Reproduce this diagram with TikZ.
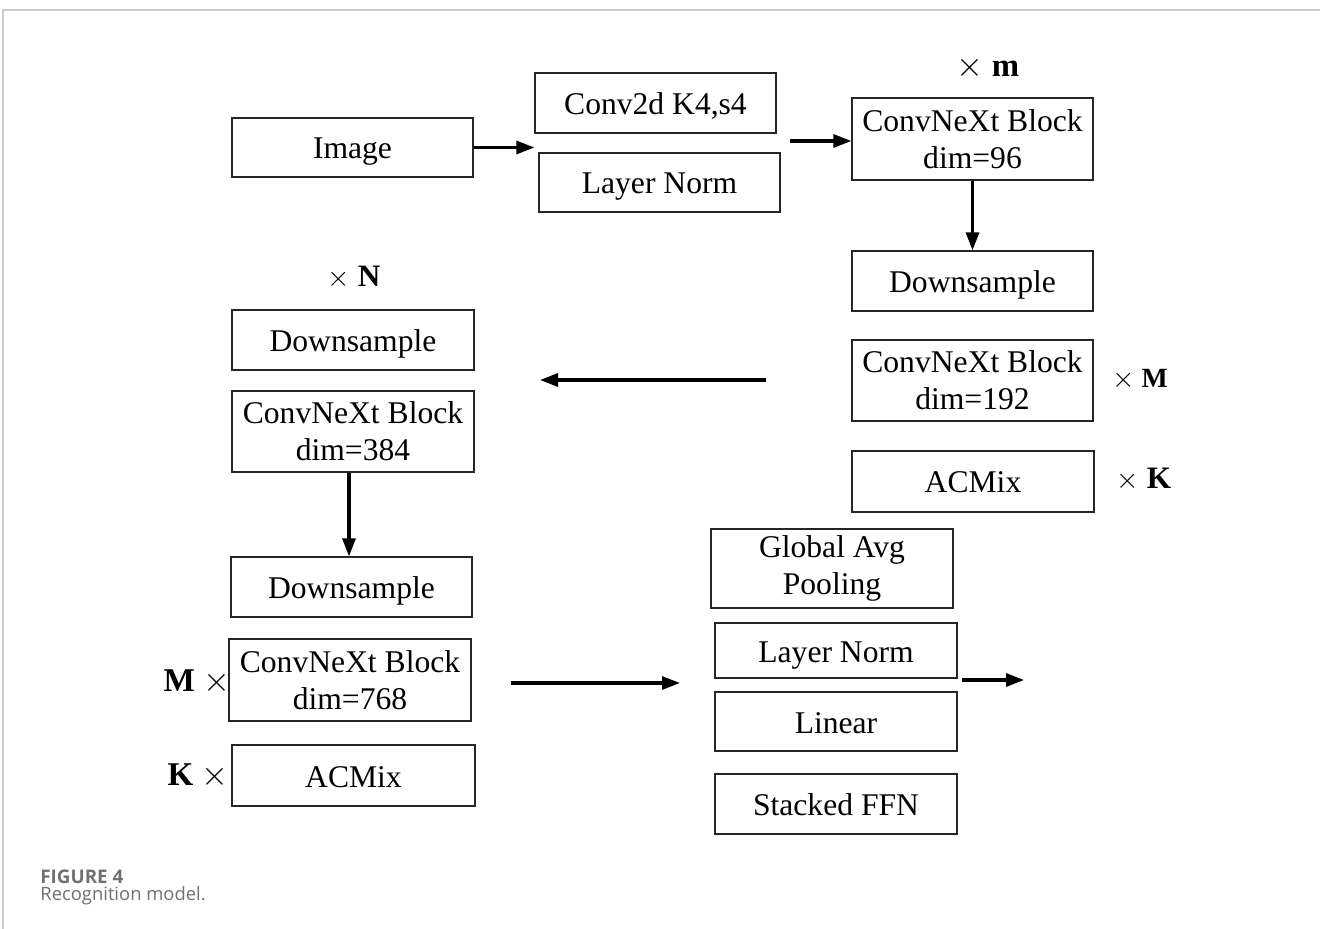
\documentclass[tikz,border=0pt]{standalone}
\usepackage{fontspec}
\setmainfont{Liberation Serif}
\newfontfamily\capfont{Open Sans}
\usetikzlibrary{arrows.meta}
\definecolor{capgray}{HTML}{707070}
\definecolor{framegray}{HTML}{CCCCCC}
\tikzset{
  bx/.style={draw=black!85, line width=0.65pt, rectangle, inner sep=0pt, align=center,
    font=\fontsize{15.8}{18.5}\selectfont},
  one/.style={text height=14pt, text depth=2.5pt},
  arr/.style={line width=1.55pt, -{Triangle[length=9pt,width=6.5pt]}},
  mult/.style={inner sep=0pt},
}
\begin{document}
\begin{tikzpicture}[x=0.5pt,y=-0.5pt]
\useasboundingbox (0,0) rectangle (1320,929);
% frame
\draw[framegray, line width=1.2pt] (3,929) -- (3,10) -- (1320,10);
% boxes
\node[bx, one, minimum width=120.5pt, minimum height=29.5pt] (img) at (352.5,147.5) {Image};
\node[bx, one, minimum width=120.5pt, minimum height=30pt] (conv) at (655.5,103) {Conv2d K4,s4};
\node[bx, one, minimum width=120.5pt, minimum height=29.5pt] (ln1) at (659.5,182.5) {Layer Norm};
\node[bx, minimum width=120.5pt, minimum height=41pt] (cb96) at (972.5,139) {ConvNeXt Block\\dim=96};
\node[bx, one, minimum width=120.5pt, minimum height=30pt] (ds1) at (972.5,281) {Downsample};
\node[bx, minimum width=120.5pt, minimum height=40.5pt] (cb192) at (972.5,380.5) {ConvNeXt Block\\dim=192};
\node[bx, one, minimum width=121pt, minimum height=30.5pt] (ac1) at (973,481.5) {ACMix};
\node[bx, one, minimum width=121pt, minimum height=30pt] (ds2) at (353,340) {Downsample};
\node[bx, minimum width=121pt, minimum height=40.5pt] (cb384) at (353,431.5) {ConvNeXt Block\\dim=384};
\node[bx, one, minimum width=120.5pt, minimum height=30pt] (ds3) at (351.5,587) {Downsample};
\node[bx, minimum width=121pt, minimum height=41pt] (cb768) at (350,680) {ConvNeXt Block\\dim=768};
\node[bx, one, minimum width=121.5pt, minimum height=30.5pt] (ac2) at (353.5,775.5) {ACMix};
\node[bx, minimum width=121pt, minimum height=39.5pt] (gap) at (832,568.5) {Global Avg\\Pooling};
\node[bx, one, minimum width=121pt, minimum height=27.5pt] (ln2) at (836,650.5) {Layer Norm};
\node[bx, one, minimum width=121pt, minimum height=29.5pt] (lin) at (836,721.5) {Linear};
\node[bx, one, minimum width=121pt, minimum height=30pt] (ffn) at (836,804) {Stacked FFN};
% multiplier labels
\node[mult, font=\fontsize{16.4}{18}\selectfont] (lm) at (988,68) {$\times$ \textbf{m}};
\node[mult, font=\fontsize{13.9}{16}\selectfont] (lM1) at (1140,380) {$\times$ \textbf{M}};
\node[mult, font=\fontsize{15.6}{18}\selectfont] (lK1) at (1144,479) {$\times$ \textbf{K}};
\node[mult, font=\fontsize{15.6}{18}\selectfont] (lN) at (354,277) {$\times$ \textbf{N}};
\node[mult, font=\fontsize{16.6}{19}\selectfont] (lM2) at (197,682) {\textbf{M} $\times$};
\node[mult, font=\fontsize{16.6}{19}\selectfont] (lK2) at (198,776) {\textbf{K} $\times$};
% free coordinates
\coordinate (a2s) at (790,141);
\coordinate (a3s) at (766,380);
\coordinate (a3e) at (540,380);
\coordinate (a4s) at (511,683);
\coordinate (a4e) at (680,683);
\coordinate (a5s) at (962,680);
\coordinate (a5e) at (1024,680);
% connectors
\draw[arr] (img.east) -- (img.east -| conv.west);
\draw[arr] (a2s) -- (a2s -| cb96.west);
\draw[arr] (cb96.south) -- (ds1.north);
\draw[arr] (a3s) -- (a3e);
\draw[arr] ([xshift=-2pt]cb384.south) -- ([xshift=-2pt]cb384.south |- ds3.north);
\draw[arr] (a4s) -- (a4e);
\draw[arr] (a5s) -- (a5e);
% caption
\node[anchor=west, inner sep=0pt, text=capgray, font=\capfont\bfseries\fontsize{9.4}{11}\selectfont] (cap1) at (40,877) {FIGURE 4};
\node[anchor=west, inner sep=0pt, text=capgray, font=\capfont\fontsize{9.2}{11}\selectfont] (cap2) at (40,896) {Recognition model.};
\end{tikzpicture}
\end{document}
